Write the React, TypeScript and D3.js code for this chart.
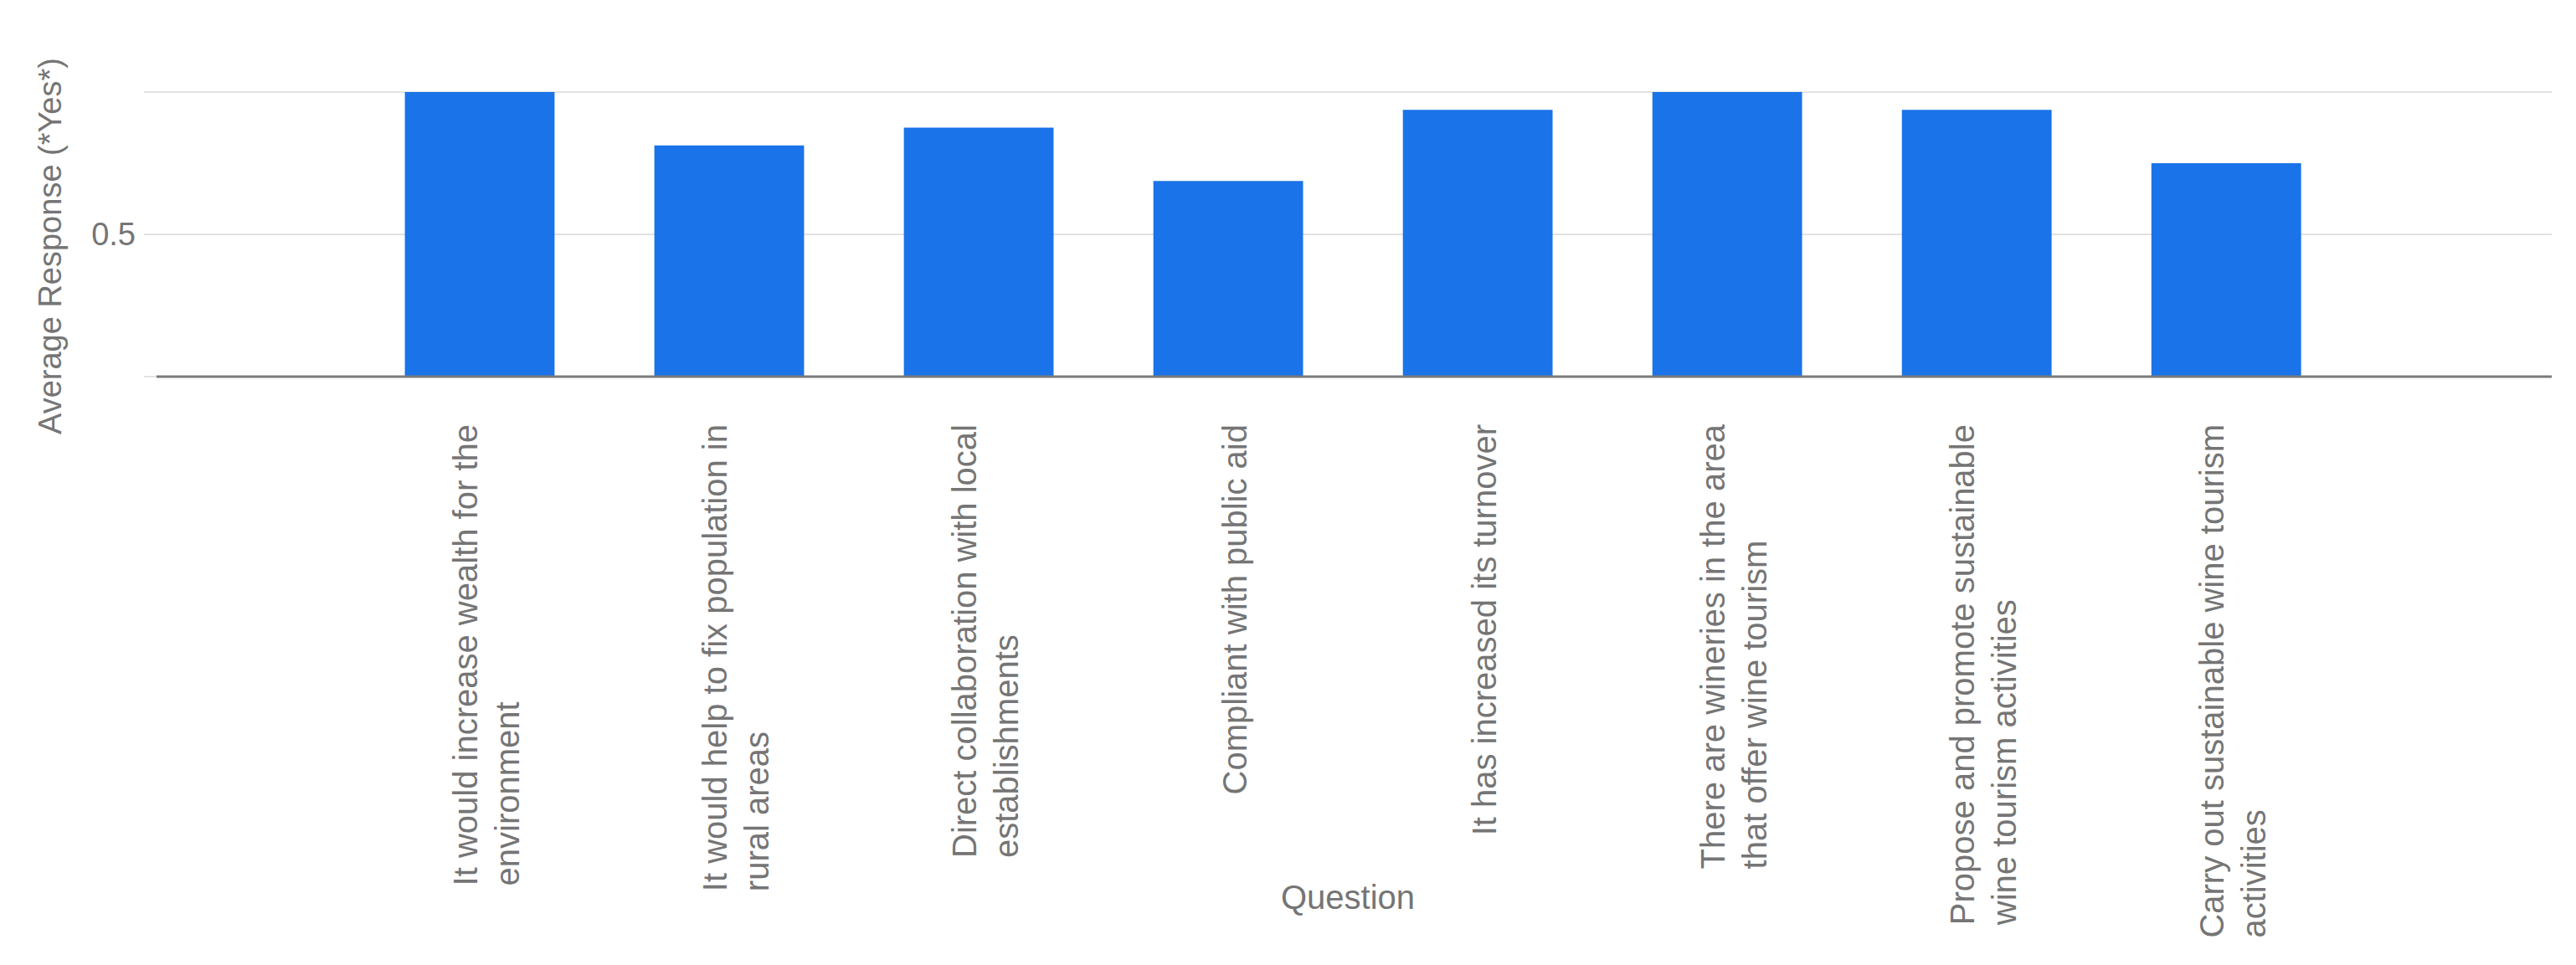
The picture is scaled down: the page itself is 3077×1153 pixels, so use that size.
import * as d3 from "d3";

// survey questions, wrapped the way the chart wraps them
const questionLines: string[][] = [
  ["It would increase wealth for the", "environment"],
  ["It would help to fix population in", "rural areas"],
  ["Direct collaboration with local", "establishments"],
  ["Compliant with public aid"],
  ["It has increased its turnover"],
  ["There are wineries in the area", "that offer wine tourism"],
  ["Propose and promote sustainable", "wine tourism activities"],
  ["Carry out sustainable wine tourism", "activities"],
];
const questions = questionLines.map((l) => l.join(" "));
const avgYes = [1, 0.8125, 0.875, 0.6875, 0.9375, 1, 0.9375, 0.75];
const yTickLabels = [0.5];
const yGrid = [0.5, 1];

const width = 3077;
const height = 1153;
const marginLeft = 172;
const marginRight = 29;
const marginTop = 110;
const plotBottom = 450;

const font = '"Liberation Sans", Arial, sans-serif';
const textColor = "#757575";
const labelSize = 40;
const lineH = 50;

export default function App() {
  const x = d3
    .scaleBand()
    .domain(questions)
    .range([marginLeft, width - marginRight])
    .paddingInner(0.4)
    .paddingOuter(1.025)
    .align(0.51);
  const y = d3.scaleLinear().domain([0, 1]).range([plotBottom, marginTop]);

  const ctx = document.createElement("canvas").getContext("2d")!;
  ctx.font = `${labelSize}px ${font}`;
  const labelTop = plotBottom + 57;

  return (
    <div style={{ position: "absolute", left: 0, top: 0 }}>
      <svg width={width} height={height} style={{ display: "block" }}>
        <rect width={width} height={height} fill="white" />
        {yGrid.map((v) => (
          <line
            key={v}
            x1={marginLeft}
            x2={width - marginRight}
            y1={y(v)}
            y2={y(v)}
            stroke="#e2e2e2"
            strokeWidth={2}
          />
        ))}
        <line
          x1={marginLeft}
          x2={width - marginRight}
          y1={y(0)}
          y2={y(0)}
          stroke="#e2e2e2"
          strokeWidth={2}
        />
        {questions.map((q, i) => (
          <rect
            key={q}
            x={x(q)}
            y={y(avgYes[i])}
            width={x.bandwidth()}
            height={y(0) - y(avgYes[i])}
            fill="#1a73e8"
          />
        ))}
        <line
          x1={marginLeft + 15}
          x2={width - marginRight}
          y1={y(0)}
          y2={y(0)}
          stroke="#7a7a7a"
          strokeWidth={3}
        />
        {yTickLabels.map((v) => (
          <text
            key={v}
            x={marginLeft - 10}
            y={y(v)}
            dy="0.35em"
            textAnchor="end"
            fontFamily={font}
            fontSize={38}
            fill={textColor}
          >
            {v}
          </text>
        ))}
        <text
          transform={`translate(73,519) rotate(-90)`}
          textAnchor="start"
          fontFamily={font}
          fontSize={38}
          fill={textColor}
        >
          Average Response (*Yes*)
        </text>
        {questionLines.map((lines, i) => {
          const cx = x(questions[i])! + x.bandwidth() / 2;
          const maxLen = d3.max(lines, (l) => ctx.measureText(l).width) ?? 0;
          const startY = labelTop + maxLen;
          return (
            <g key={i}>
              {lines.map((l, j) => {
                const bx =
                  cx + (j - (lines.length - 1) / 2) * lineH + 0.35 * labelSize + 8;
                return (
                  <text
                    key={j}
                    transform={`translate(${bx},${startY}) rotate(-90)`}
                    fontFamily={font}
                    fontSize={labelSize}
                    fill={textColor}
                  >
                    {l}
                  </text>
                );
              })}
            </g>
          );
        })}
        <text
          x={(marginLeft + width - marginRight) / 2}
          y={1086}
          textAnchor="middle"
          fontFamily={font}
          fontSize={40}
          fill={textColor}
        >
          Question
        </text>
      </svg>
    </div>
  );
}
